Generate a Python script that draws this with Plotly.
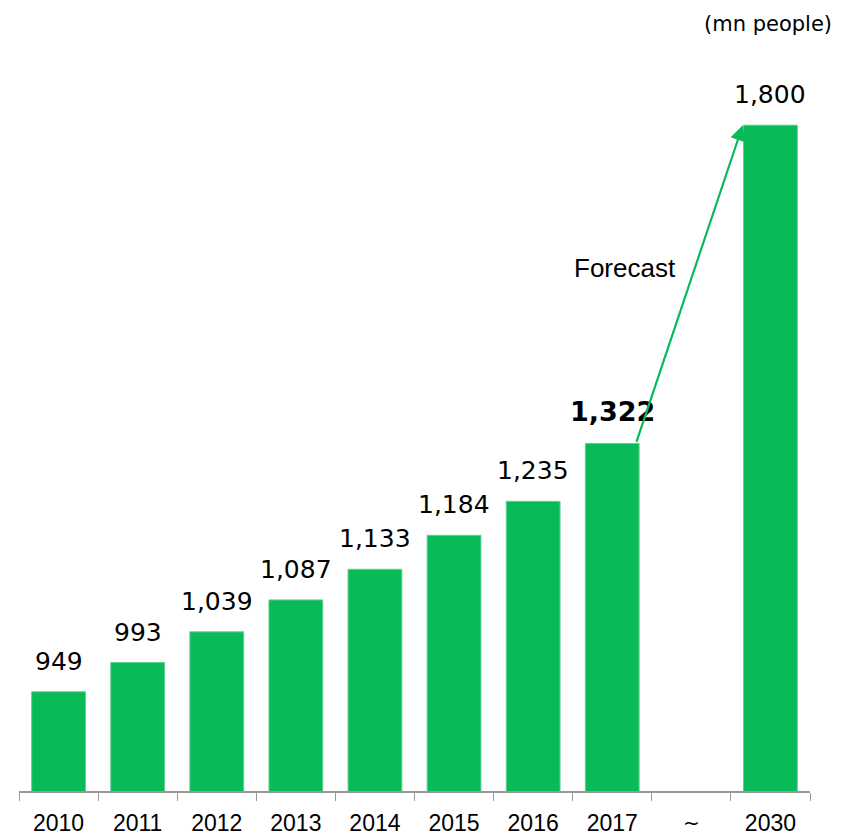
import plotly.graph_objects as go

categories = ["2010", "2011", "2012", "2013", "2014", "2015", "2016", "2017", "gap", "2030"]
tick_labels = ["2010", "2011", "2012", "2013", "2014", "2015", "2016", "2017", " ", "2030"]
values = [949, 993, 1039, 1087, 1133, 1184, 1235, 1322, None, 1800]
value_labels = ["949", "993", "1,039", "1,087", "1,133", "1,184", "1,235", "<b>1,322</b>", "", "1,800"]

GREEN = "#08BB58"
W, H = 848, 837
ML, MR, MT, MB = 19, 38, 0, 46
PW, PH = W - ML - MR, H - MT - MB


def px(x):
    return (x - ML) / PW


def py(y):
    return 1 - (y - MT) / PH


fig = go.Figure()
fig.add_trace(go.Bar(
    x=categories, y=values,
    marker=dict(color=GREEN, line=dict(color="#5ED08F", width=1)),
    hoverinfo="skip",
))

for i, (v, lab) in enumerate(zip(values, value_labels)):
    if v is None:
        continue
    bold = lab.startswith("<b>")
    fig.add_annotation(
        x=i, y=v, xref="x", yref="y", text=lab, showarrow=False,
        xanchor="center", yanchor="bottom", yshift=14,
        font=dict(family="DejaVu Sans", size=27 if bold else 25, color="black"),
    )

# forecast arrow
fig.add_annotation(
    x=8.65, y=1800, ax=7.30, ay=1322, xref="x", yref="y", axref="x", ayref="y",
    text="", showarrow=True, arrowhead=2, arrowsize=1.4, arrowwidth=2.2,
    arrowcolor=GREEN, standoff=0, startstandoff=0,
)
fig.add_annotation(
    x=px(625), y=py(268), xref="paper", yref="paper", text="Forecast", showarrow=False,
    xanchor="center", yanchor="middle",
    font=dict(family="Liberation Sans", size=26, color="black"),
)
fig.add_annotation(
    x=8, y=py(823), xref="x", yref="paper", text="~", showarrow=False,
    xanchor="center", yanchor="middle",
    font=dict(family="DejaVu Sans", size=20, color="black"),
)
fig.add_annotation(
    x=px(768), y=py(24), xref="paper", yref="paper", text="(mn people)", showarrow=False,
    xanchor="center", yanchor="middle",
    font=dict(family="DejaVu Sans", size=21, color="black"),
)

fig.update_layout(
    width=W, height=H, margin=dict(l=ML, r=MR, t=MT, b=MB),
    paper_bgcolor="white", plot_bgcolor="white", showlegend=False, bargap=0.32,
    xaxis=dict(
        type="category", tickmode="array", tickvals=categories, ticktext=tick_labels,
        tickson="boundaries", ticks="outside", ticklen=8, tickcolor="#999999",
        showline=True, linecolor="#999999", linewidth=1.5, showgrid=False,
        tickfont=dict(family="Liberation Sans", size=23, color="black"),
        ticklabelstandoff=11,
        range=[-0.5, 9.5], fixedrange=True,
    ),
    yaxis=dict(range=[800, 1988], visible=False, showgrid=False, fixedrange=True),
)

fig.write_html("out.html")
